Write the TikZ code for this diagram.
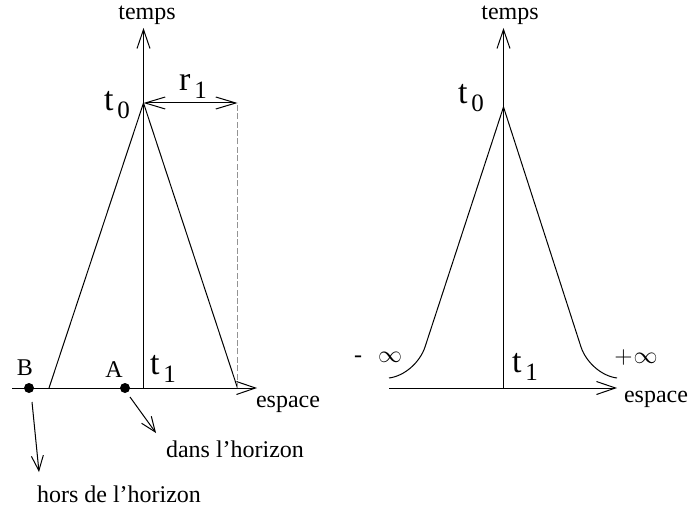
\documentclass[tikz,border=0pt]{standalone}
\usepackage{fontspec}
\setmainfont{Liberation Serif}
\usetikzlibrary{arrows.meta}

\tikzset{
  trait/.style={line width=0.5pt},
  axe/.style={trait, -{Straight Barb[length=9.5pt,width=6.5pt]}},
  cote/.style={trait, {Straight Barb[length=10pt,width=6pt]}-{Straight Barb[length=10pt,width=6pt]}},
  renvoi/.style={trait, -{Straight Barb[length=7.5pt,width=6pt]}},
  pointille/.style={line width=0.55pt, gray!85, dash pattern=on 3pt off 1.2pt},
  lbl/.style={font=\fontsize{12}{14}\selectfont, inner sep=0pt},
  point/.style={circle, fill, inner sep=0pt, minimum size=5pt},
}
\newcommand{\indice}[2]{{\fontsize{17}{19}\selectfont #1\hspace{2pt}\raisebox{-4pt}{\fontsize{12.5}{14}\selectfont #2}}}

\begin{document}
\begin{tikzpicture}[x=0.5pt, y=-0.5pt]
  \useasboundingbox (0,0) rectangle (690,508);

  % cone de gauche
  \coordinate (O1) at (143.5,388);
  \coordinate (T1) at (143.5,28);
  \coordinate (X1a) at (12,388);
  \coordinate (X1b) at (257,388);
  \coordinate (S1) at (143.5,103);
  \coordinate (G1) at (49,388);
  \coordinate (D1) at (237.5,388);
  \coordinate (R1) at (237.5,103);

  \draw[axe] (O1) -- (T1);
  \draw[axe] (X1a) -- (X1b);
  \draw[trait] (G1) -- (S1) -- (D1);
  \draw[pointille] (D1) -- (R1);
  \draw[cote] (S1) -- (R1);

  \node[lbl] (temps1) at (147,15) {temps};
  \node[lbl] (espace1) at (288,404) {espace};
  \node[lbl] (t0g) at (117,105) {\indice{t}{0}};
  \node[lbl] (r1) at (193,86) {\indice{r}{1}};
  \node[lbl] (t1g) at (163,369) {\indice{t}{1}};

  \node[point] (B) at (29,388) {};
  \node[point] (A) at (125,388) {};
  \node[lbl] (labB) at (25,368) {B};
  \node[lbl] (labA) at (114,370) {A};
  \node[lbl] (dans) at (235,449) {dans l'horizon};
  \node[lbl] (hors) at (119,494) {hors de l'horizon};
  \coordinate (fA) at (156,433);
  \coordinate (fB) at (39,472);
  \draw[renvoi] ([shift={(5,9)}]A.center) -- (fA);
  \draw[renvoi] ([shift={(3,14)}]B.center) -- (fB);

  % cone de droite
  \coordinate (O2) at (503.5,388);
  \coordinate (T2) at (503.5,28);
  \coordinate (X2a) at (389,388);
  \coordinate (X2b) at (617,388);
  \coordinate (S2) at (503.5,107);
  \coordinate (G2) at (389,378);
  \coordinate (D2) at (617,378);

  \draw[axe] (O2) -- (T2);
  \draw[axe] (X2a) -- (X2b);
  \draw[trait] (G2) .. controls (405,376) and (420,362) .. (425,347)
    -- (S2) -- (581,347) .. controls (586,362) and (601,376) .. (D2);

  \node[lbl] (temps2) at (510,15) {temps};
  \node[lbl] (espace2) at (656,399) {espace};
  \node[lbl] (t0d) at (471,98) {\indice{t}{0}};
  \node[lbl] (t1d) at (525,367) {\indice{t}{1}};
  \node[lbl] (minf) at (378,357) {-\hspace{8pt}$\infty$};
  \node[lbl] (pinf) at (636,357) {$+$\hspace{0.5pt}$\infty$};
\end{tikzpicture}
\end{document}
